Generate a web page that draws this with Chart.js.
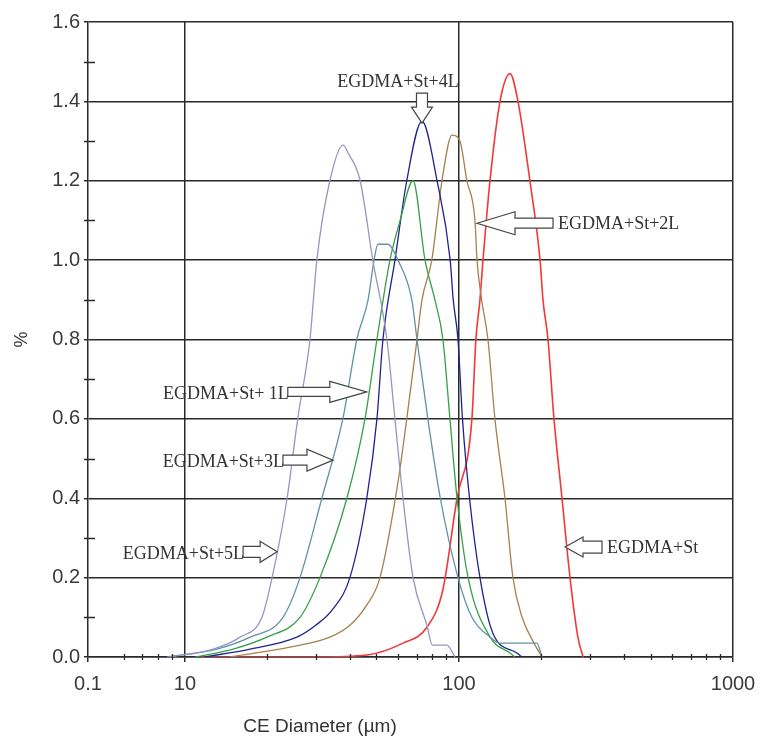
<!DOCTYPE html>
<html>
<head>
<meta charset="utf-8">
<script src="https://cdn.jsdelivr.net/npm/chart.js@4.4.1/dist/chart.umd.min.js"></script>
<style>
  html, body { margin: 0; padding: 0; background: #fff; }
  #wrap { width: 760px; height: 737px; }
</style>
</head>
<body>
<div id="wrap"><canvas id="sizeChart"></canvas></div>
<script>
// CE diameter (µm) / volume % for each sample
const st5LD = [8.8, 12.7, 15.9, 19.1, 20.8, 23.6, 25.8, 28.6, 30.3, 33.8, 37.8, 39.4, 43.6, 48.5, 54.6, 58.4, 62.5, 68, 76.4, 80, 90.3, 96.7];
const st5LP = [0, 0.02, 0.05, 0.1, 0.2, 0.4, 0.6, 0.8, 1.0, 1.2, 1.29, 1.27, 1.2, 1.0, 0.8, 0.6, 0.4, 0.2, 0.08, 0.03, 0.03, 0];

const st3LD = [8.6, 13.1, 17.3, 22.8, 26.3, 31.6, 37.7, 42.4, 46.6, 49.0, 50.6, 55.1, 59.9, 67.3, 70.3, 77.0, 85.5, 99.2, 111.5, 130, 141, 192.6, 200.9];
const st3LP = [0, 0.02, 0.05, 0.1, 0.2, 0.4, 0.6, 0.8, 0.9, 1.0, 1.04, 1.04, 1.0, 0.9, 0.8, 0.6, 0.4, 0.2, 0.1, 0.05, 0.035, 0.035, 0];

const st1LD = [10.9, 15.0, 19.9, 26.3, 31.1, 39.0, 45.4, 50.2, 56.0, 61, 68.0, 75.2, 81.7, 87.4, 92.7, 98.4, 108, 130, 153.6, 160];
const st1LP = [0, 0.02, 0.05, 0.1, 0.2, 0.4, 0.6, 0.8, 1.0, 1.1, 1.2, 1.0, 0.9, 0.8, 0.6, 0.4, 0.2, 0.05, 0.01, 0];

const st4LD = [11.8, 17.3, 25.6, 30, 34.6, 40.0, 46.1, 50.2, 52.8, 58.4, 64.5, 73.3, 83.2, 92.9, 95.3, 99.2, 103, 109.3, 119.3, 133, 162.8, 169.8];
const st4LP = [0, 0.02, 0.05, 0.08, 0.12, 0.2, 0.4, 0.6, 0.8, 1.0, 1.2, 1.35, 1.2, 1.0, 0.9, 0.8, 0.6, 0.4, 0.2, 0.06, 0.01, 0];

const st2LD = [14.6, 24.2, 33.8, 40, 46, 51.5, 59.9, 64.5, 70.3, 73.3, 79.6, 86.7, 94.3, 100.8, 106.9, 114.4, 116.4, 121, 127.6, 135.3, 147.2, 157.4, 170, 186.2, 200.9];
const st2LP = [0, 0.025, 0.05, 0.08, 0.13, 0.2, 0.44, 0.6, 0.8, 0.9, 1.0, 1.2, 1.315, 1.3, 1.2, 1.1, 1.0, 0.9, 0.8, 0.6, 0.4, 0.2, 0.1, 0.04, 0];

const stD = [11.5, 30, 46.1, 62.5, 76.4, 87.4, 98.4, 111.5, 115.3, 119.3, 122.4, 129.8, 141.2, 153.6, 164.2, 181.5, 197.7, 202.6, 211.3, 222.2, 237.7, 254.3, 271.6, 283.6];
const stP = [0, 0, 0.005, 0.035, 0.075, 0.17, 0.4, 0.6, 0.8, 0.9, 1.0, 1.2, 1.4, 1.47, 1.4, 1.2, 1.0, 0.9, 0.8, 0.6, 0.4, 0.2, 0.05, 0];

const seriesNames = ["EGDMA+St+5L", "EGDMA+St+3L", "EGDMA+St+1L", "EGDMA+St+4L", "EGDMA+St+2L", "EGDMA+St"];
const seriesD = [st5LD, st3LD, st1LD, st4LD, st2LD, stD];
const seriesP = [st5LP, st3LP, st1LP, st4LP, st2LP, stP];
const seriesColors = ["#9696c6", "#5f93a4", "#35a046", "#1e2290", "#a8804c", "#f23838"];

// axis ticks
const xAxisMin = 4.43;
const xMajorTicks = [4.43, 10, 100, 1000];
const xMajorLabels = ["0.1", "10", "100", "1000"];
const xGridLines = [10, 100, 1000];
const xMinorTicks = [6, 7, 8, 9, 20, 30, 40, 50, 60, 70, 80, 90, 200, 300, 400, 500, 600, 700, 800, 900];
const yMajorTicks = [0, 0.2, 0.4, 0.6, 0.8, 1.0, 1.2, 1.4, 1.6];
const yMajorLabels = ["0.0", "0.2", "0.4", "0.6", "0.8", "1.0", "1.2", "1.4", "1.6"];
const yMinorTicks = [0.1, 0.3, 0.5, 0.7, 0.9, 1.1, 1.3, 1.5];

// arrow notes (tip in data units)
const noteTexts = ["EGDMA+St+4L", "EGDMA+St+2L", "EGDMA+St+ 1L", "EGDMA+St+3L", "EGDMA+St+5L", "EGDMA+St"];
const noteTipD = [73.3, 116.4, 46.1, 34.7, 21.7, 243.8];
const noteTipP = [1.345, 1.093, 0.668, 0.496, 0.265, 0.277];
const noteDir = ["down", "left", "right", "right", "right", "left"];

const arrowLen = [30, 76, 79, 50, 34, 37];
const arrowHead = [16, 38, 37, 26, 17, 18];
const arrowHeadHalf = [10.5, 11.5, 10.5, 11, 10.5, 10];
const arrowShaftHalf = [5.5, 5, 4.5, 5, 5.5, 6];

const gridColor = "#2a2a2a";

// little crosses for the minor ticks + arrows + x title
const extrasPlugin = {
  id: "extras",
  afterDraw(chart) {
    const { ctx, chartArea, scales } = chart;
    const x = scales.x, y = scales.y;
    ctx.save();
    ctx.strokeStyle = gridColor;
    ctx.lineWidth = 1.3;
    ctx.beginPath();
    xMinorTicks.forEach((v) => {
      const px = Math.round(x.getPixelForValue(v)) + 0.5;
      ctx.moveTo(px, chartArea.bottom - 3);
      ctx.lineTo(px, chartArea.bottom + 3);
    });
    yMinorTicks.forEach((v) => {
      const py = Math.round(y.getPixelForValue(v)) + 0.5;
      ctx.moveTo(chartArea.left - 4, py);
      ctx.lineTo(chartArea.left + 7, py);
    });
    ctx.stroke();

    // hollow block arrows with labels
    ctx.font = "18px 'Liberation Serif', 'Times New Roman', serif";
    ctx.textBaseline = "middle";
    noteTexts.forEach((txt, i) => {
      const tx = x.getPixelForValue(noteTipD[i]);
      const ty = y.getPixelForValue(noteTipP[i]);
      const u = noteDir[i] === "right" ? [1, 0] : noteDir[i] === "left" ? [-1, 0] : [0, 1];
      const perp = [-u[1], u[0]];
      const len = arrowLen[i], hd = arrowHead[i], hh = arrowHeadHalf[i], sh = arrowShaftHalf[i];
      const pts = [[0, 0], [-hd, hh], [-hd, sh], [-len, sh], [-len, -sh], [-hd, -sh], [-hd, -hh]];
      ctx.beginPath();
      pts.forEach(([a, b], k) => {
        const px = tx + a * u[0] + b * perp[0];
        const py = ty + a * u[1] + b * perp[1];
        k === 0 ? ctx.moveTo(px, py) : ctx.lineTo(px, py);
      });
      ctx.closePath();
      ctx.fillStyle = "#fff";
      ctx.fill();
      ctx.strokeStyle = "#444";
      ctx.lineWidth = 1.2;
      ctx.stroke();

      ctx.fillStyle = "#333";
      if (noteDir[i] === "right") {
        ctx.textAlign = "right";
        ctx.fillText(txt, tx - len + 1, ty + 2);
      } else if (noteDir[i] === "left") {
        ctx.textAlign = "left";
        ctx.fillText(txt, tx + len + 5, ty + 1);
      } else {
        ctx.textAlign = "center";
        ctx.fillText(txt, tx - 24, ty - len - 11);
      }
    });

    // x axis title sits left of centre in the original
    ctx.font = "19px 'Liberation Sans', Arial, sans-serif";
    ctx.fillStyle = "#333";
    ctx.textAlign = "center";
    ctx.textBaseline = "middle";
    ctx.fillText("CE Diameter (µm)", 320, chartArea.bottom + 70);
    ctx.restore();
  },
};

function buildDatasets() {
  return seriesNames.map((name, i) => ({
    label: name,
    data: seriesD[i].map((d, k) => ({ x: d, y: seriesP[i][k] })),
    borderColor: seriesColors[i],
    borderWidth: i === 5 ? 1.6 : 1.3,
    pointRadius: 0,
    cubicInterpolationMode: "monotone",
    fill: false,
  }));
}

const tickFont = { family: "'Liberation Sans', Arial, sans-serif", size: 20 };

new Chart(document.getElementById("sizeChart"), {
  type: "line",
  data: { datasets: buildDatasets() },
  options: {
    responsive: true,
    maintainAspectRatio: false,
    animation: false,
    layout: { padding: { top: 22, right: 27, left: 0, bottom: 0 } },
    plugins: { legend: { display: false }, tooltip: { enabled: false } },
    scales: {
      x: {
        type: "logarithmic",
        min: xAxisMin,
        max: 1000,
        afterBuildTicks: (scale) => {
          scale.ticks = xMajorTicks.map((v) => ({ value: v }));
        },
        afterFit: (scale) => {
          scale.height = 80;
          // let the last label hang into the right margin
          scale.paddingLeft = 0;
          scale.paddingRight = 0;
        },
        ticks: {
          autoSkip: false,
          maxRotation: 0,
          padding: 10,
          color: "#3a3a3a",
          font: tickFont,
          callback: (value) => {
            const i = xMajorTicks.indexOf(value);
            return i >= 0 ? xMajorLabels[i] : "";
          },
        },
        grid: {
          lineWidth: 1.5,
          tickLength: 5,
          color: (c) => (c.tick && xGridLines.includes(c.tick.value) ? gridColor : "rgba(0,0,0,0)"),
          tickColor: gridColor,
        },
        border: { color: gridColor, width: 1.5 },
      },
      y: {
        min: 0,
        max: 1.6,
        afterBuildTicks: (scale) => {
          scale.ticks = yMajorTicks.map((v) => ({ value: v }));
        },
        afterFit: (scale) => {
          scale.width = 88;
          scale.paddingTop = 0;
          scale.paddingBottom = 0;
        },
        ticks: {
          padding: 4,
          color: "#3a3a3a",
          font: tickFont,
          callback: (value) => {
            const i = yMajorTicks.findIndex((t) => Math.abs(t - value) < 1e-6);
            return i >= 0 ? yMajorLabels[i] : "";
          },
        },
        grid: {
          lineWidth: 1.5,
          tickLength: 4,
          color: gridColor,
          tickColor: gridColor,
        },
        border: { color: gridColor, width: 1.5 },
        title: {
          display: true,
          text: "%",
          color: "#333",
          font: { family: "'Liberation Sans', Arial, sans-serif", size: 18 },
          padding: { top: 11, bottom: 0 },
        },
      },
    },
  },
  plugins: [extrasPlugin],
});
</script>
</body>
</html>
